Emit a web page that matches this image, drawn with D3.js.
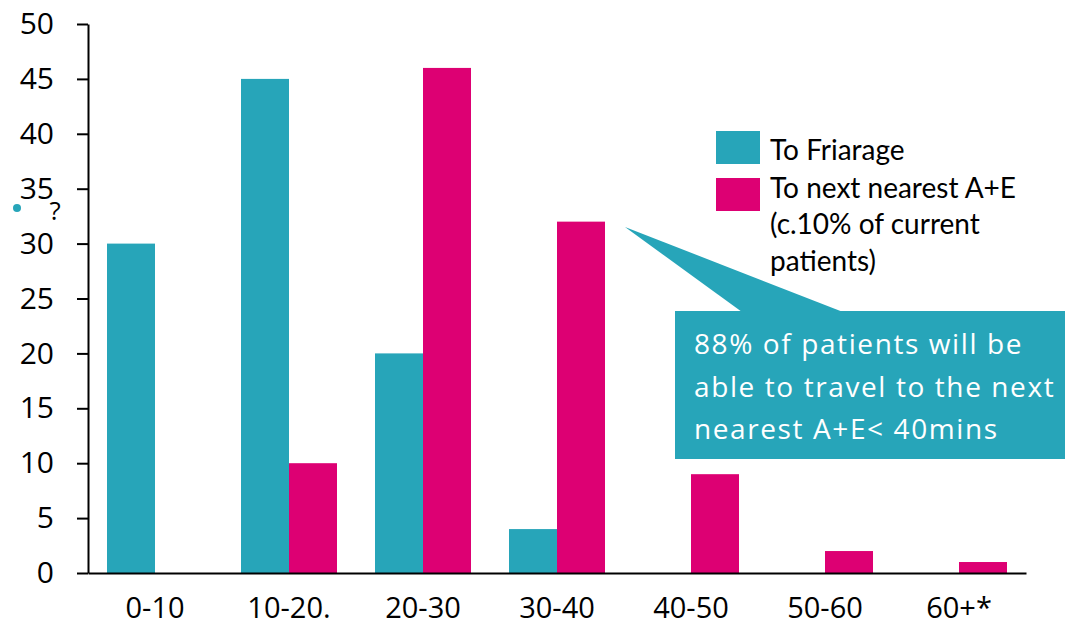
<!DOCTYPE html>
<html>
<head>
<meta charset="utf-8">
<script src="https://cdn.jsdelivr.net/npm/d3@7"></script>
<style>
  html, body { margin: 0; padding: 0; background: #fff; }
  svg { display: block; }
</style>
</head>
<body>
<svg id="chart" width="1066" height="625"></svg>
<script>
// Journey-time bands (minutes)
const categories = ["0-10", "10-20.", "20-30", "30-40", "40-50", "50-60", "60+*"];
// Share of patients per band
const toFriarage = [30, 45, 20, 4, 0, 0, 0];
const toNextNearest = [0, 10, 46, 32, 9, 2, 1];
const seriesNames = ["To Friarage", "To next nearest A+E"];
const legendExtraLines = ["(c.10% of current", "patients)"];
const yTicks = [0, 5, 10, 15, 20, 25, 30, 35, 40, 45, 50];
const calloutLines = ["88% of patients will be", "able to travel to the next", "nearest A+E< 40mins"];

const TEAL = "#27A5B9";
const PINK = "#DD0073";

const svg = d3.select("#chart");
const plot = { left: 88, right: 1026, top: 24, bottom: 573 };

const x = d3.scaleBand()
  .domain(categories)
  .range([plot.left, plot.right])
  .paddingInner(38 / 134)
  .paddingOuter(19 / 134);

const xInner = d3.scaleBand()
  .domain(seriesNames)
  .range([0, x.bandwidth()]);

const y = d3.scaleLinear().domain([0, 50]).range([plot.bottom, plot.top]);

const rows = categories.map((c, i) => ({
  cat: c,
  values: [
    { s: seriesNames[0], v: toFriarage[i], color: TEAL },
    { s: seriesNames[1], v: toNextNearest[i], color: PINK }
  ]
}));

// Bars
const groups = svg.append("g").selectAll("g")
  .data(rows).join("g")
  .attr("transform", d => `translate(${x(d.cat)},0)`);

groups.selectAll("rect")
  .data(d => d.values.filter(e => e.v > 0))
  .join("rect")
  .attr("x", d => xInner(d.s))
  .attr("width", xInner.bandwidth())
  .attr("y", d => y(d.v))
  .attr("height", d => y(0) - y(d.v))
  .attr("fill", d => d.color);

// Y axis
const yAxis = svg.append("g")
  .attr("transform", `translate(${plot.left},0)`)
  .call(d3.axisLeft(y).tickValues(yTicks).tickSizeInner(11).tickSizeOuter(0).tickPadding(23));
yAxis.select(".domain").attr("stroke", "#000").attr("stroke-width", 2);
yAxis.selectAll(".tick line").attr("stroke", "#000").attr("stroke-width", 2);
yAxis.selectAll(".tick text")
  .attr("fill", "#000")
  .style("font-family", "'Open Sans', sans-serif")
  .style("font-size", "30px");

// X axis
const xAxis = svg.append("g")
  .attr("transform", `translate(0,${plot.bottom})`)
  .call(d3.axisBottom(x).tickSize(0).tickPadding(24));
xAxis.select(".domain").attr("stroke", "#000").attr("stroke-width", 2);
xAxis.selectAll(".tick text")
  .attr("fill", "#000")
  .style("font-family", "'Open Sans', sans-serif")
  .style("font-size", "29px");

// Stray marker near the y axis
svg.append("circle").attr("cx", 17).attr("cy", 208).attr("r", 4).attr("fill", TEAL);
svg.append("text").attr("x", 55).attr("y", 220)
  .attr("text-anchor", "middle")
  .style("font-family", "'Open Sans', sans-serif").style("font-size", "26px")
  .attr("fill", "#000").text("?");

// Legend
const legend = svg.append("g").attr("transform", "translate(716,131)");
const legendFont = "Lato, 'Open Sans', sans-serif";
[TEAL, PINK].forEach((c, i) => {
  legend.append("rect").attr("x", 0).attr("y", i * 47).attr("width", 44).attr("height", 33).attr("fill", c);
  legend.append("text").attr("x", 54).attr("y", 29 + i * 38)
    .style("font-family", legendFont).style("font-size", "28px").attr("fill", "#000")
    .text(seriesNames[i]);
});
legendExtraLines.forEach((t, i) => {
  legend.append("text").attr("x", 54).attr("y", 29 + (i + 2) * 37)
    .style("font-family", legendFont).style("font-size", "28px").attr("fill", "#000")
    .text(t);
});

// Callout box with pointer
const callout = svg.append("g");
callout.append("path")
  .attr("d", "M625,227 L843,312 L742,312 Z")
  .attr("fill", TEAL);
callout.append("rect")
  .attr("x", 675).attr("y", 311).attr("width", 390).attr("height", 148)
  .attr("fill", TEAL);
calloutLines.forEach((t, i) => {
  callout.append("text").attr("x", 694).attr("y", 354 + i * 42.5)
    .style("font-family", "'Open Sans', sans-serif").style("font-size", "28px")
    .style("letter-spacing", "1.6px")
    .attr("fill", "#fff").text(t);
});
</script>
</body>
</html>
